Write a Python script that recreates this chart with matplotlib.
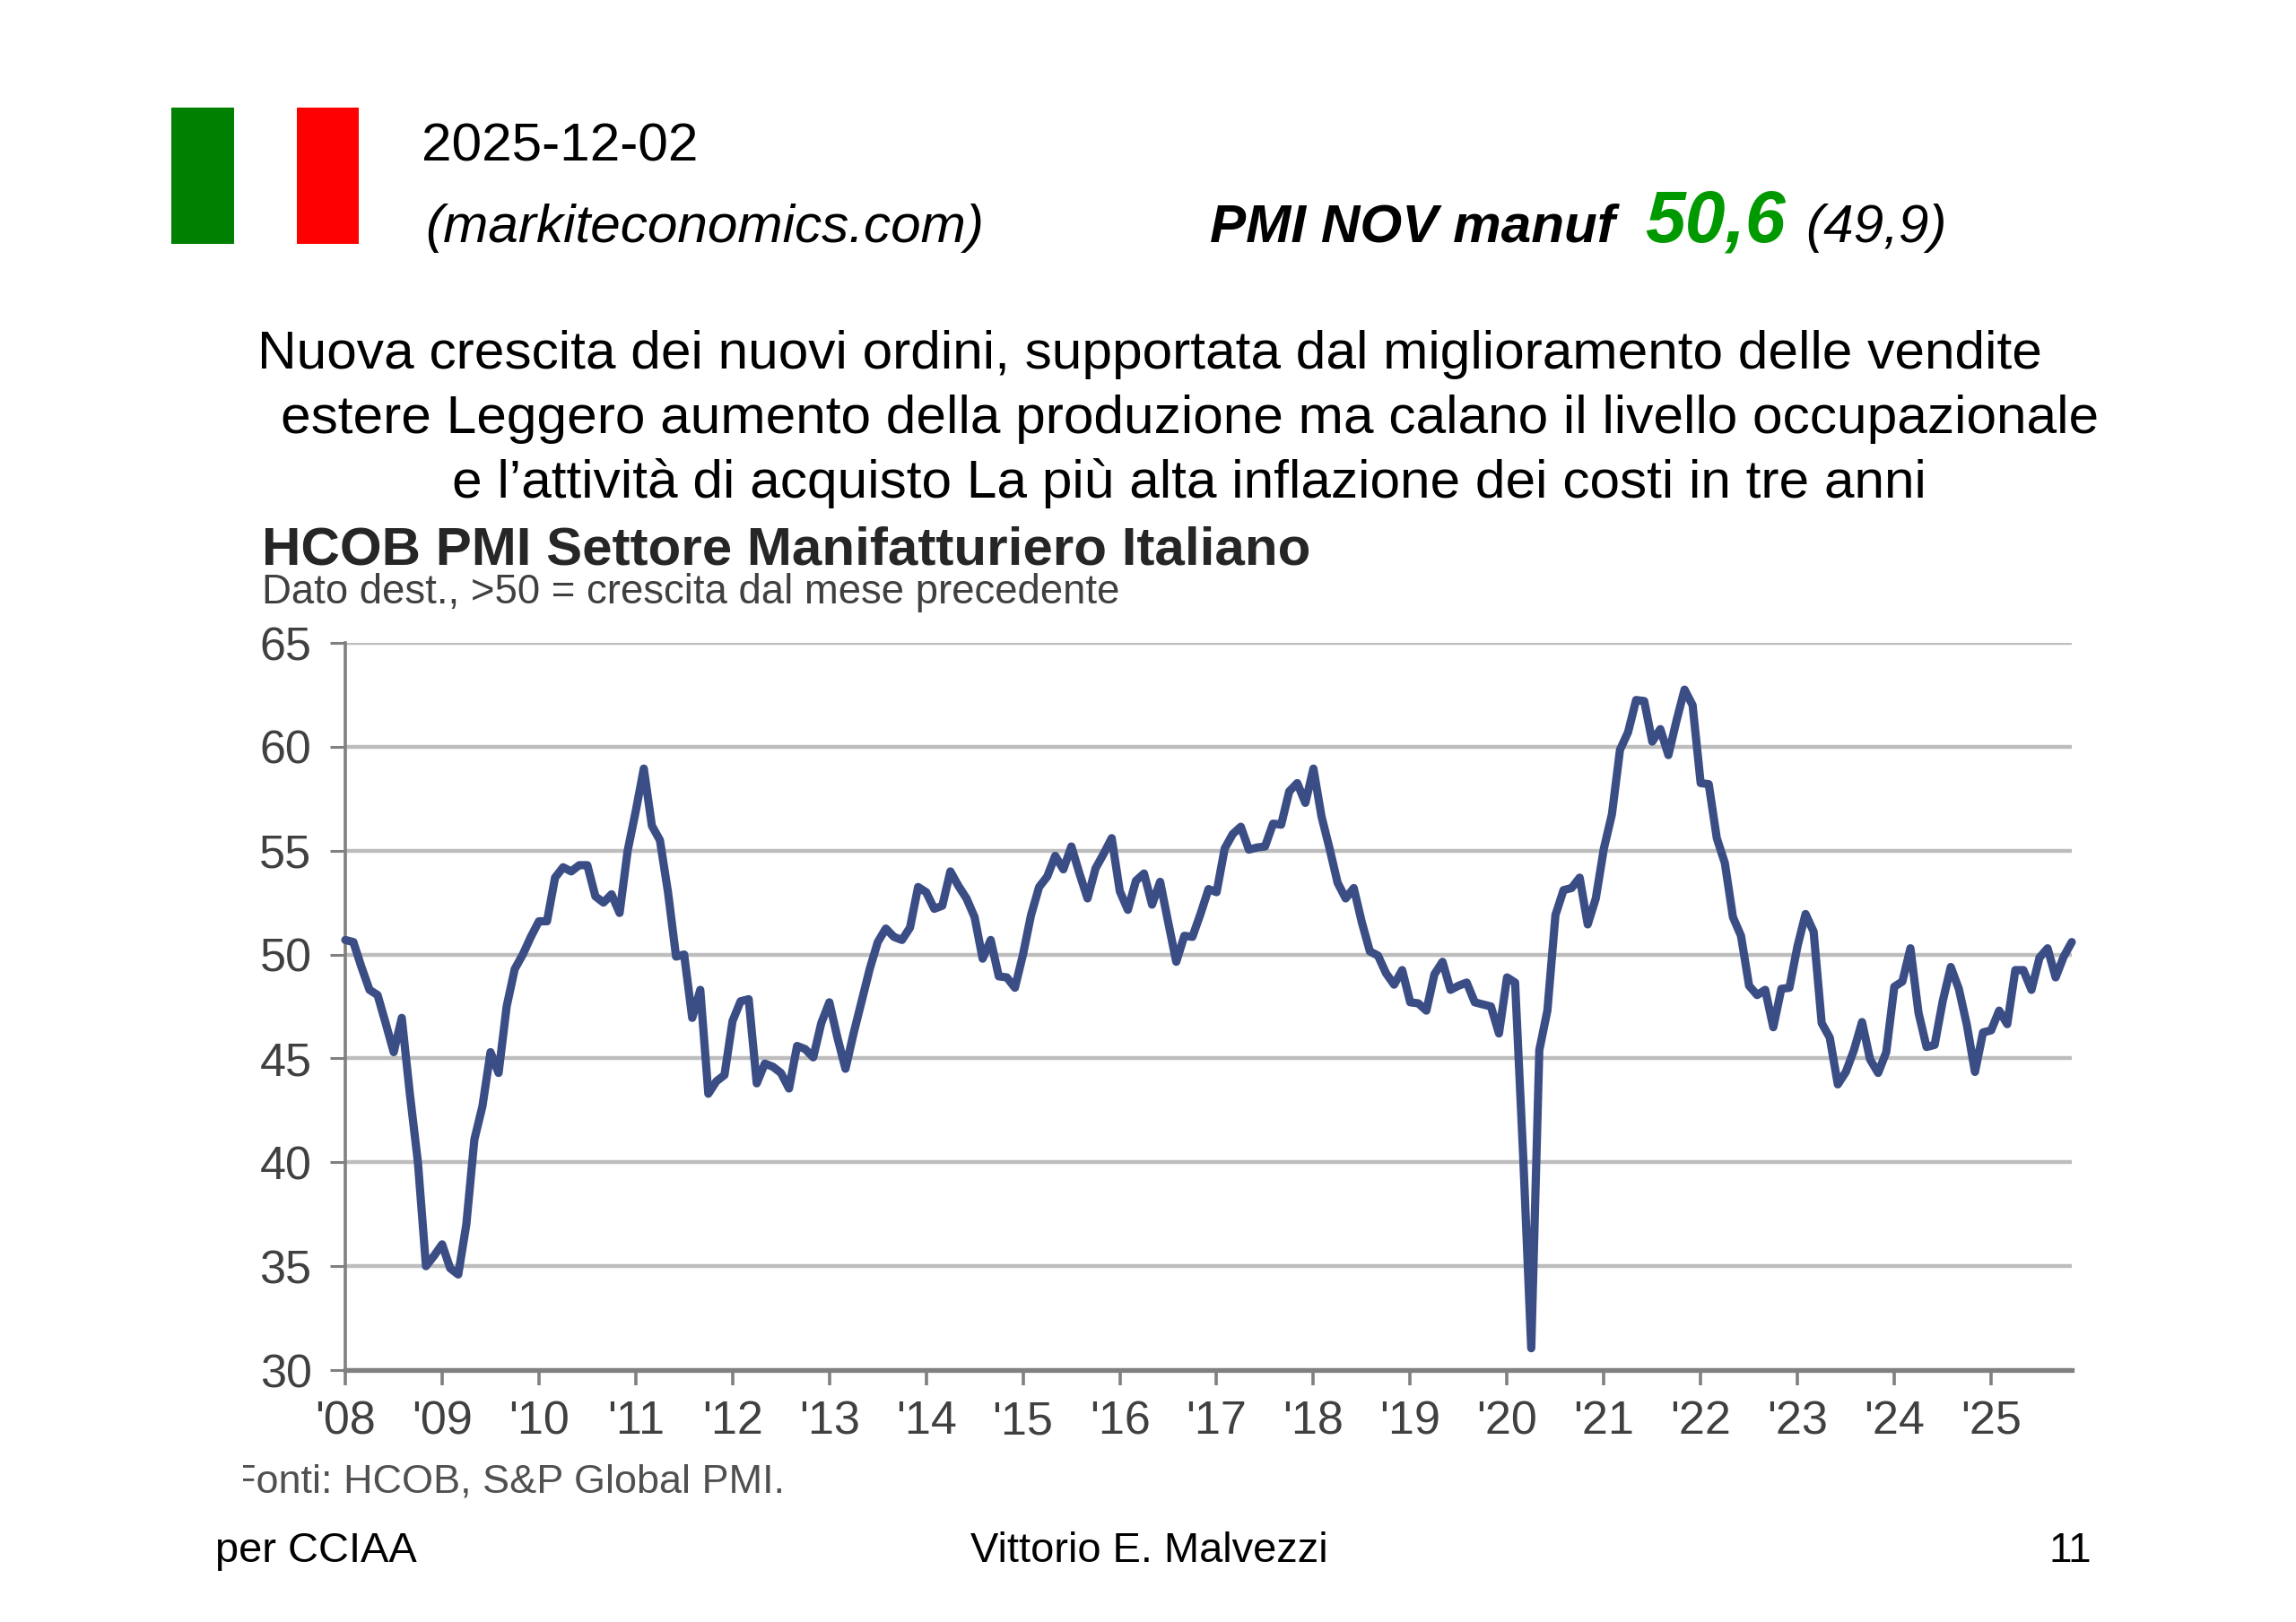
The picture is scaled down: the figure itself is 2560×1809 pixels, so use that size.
import matplotlib
matplotlib.use('Agg')
import matplotlib.pyplot as plt
from matplotlib.patches import Rectangle
from matplotlib.transforms import Bbox

WIDTH = 2560
HEIGHT = 1809

plt.rcParams['font.family'] = ['Liberation Sans', 'DejaVu Sans']

# monthly index, Jan 2008 to Nov 2025
pmi_2008_2013 = [
    50.7, 50.6, 49.4, 48.3, 48.05, 46.7, 45.3, 46.95, 43.3, 40.0, 35.0, 35.5,
    36.05, 34.9, 34.6, 37.0, 41.1, 42.7, 45.3, 44.3, 47.5, 49.3, 50.0, 50.85,
    51.6, 51.6, 53.7, 54.2, 54.0, 54.3, 54.3, 52.8, 52.5, 52.9, 52.0, 55.0,
    56.9, 58.95, 56.2, 55.5, 53.0, 49.9, 50.0, 46.95, 48.3, 43.3, 43.9, 44.2,
    46.8, 47.75, 47.85, 43.8, 44.75, 44.6, 44.3, 43.55, 45.6, 45.45, 45.05, 46.7,
    47.7, 46.0, 44.5, 46.2, 47.75, 49.3, 50.6, 51.25, 50.85, 50.7, 51.3, 53.25,
]
pmi_2014_2019 = [
    53.0, 52.2, 52.35, 54.0, 53.3, 52.7, 51.8, 49.8, 50.7, 48.95, 48.9, 48.4,
    50.0, 51.9, 53.25, 53.75, 54.75, 54.1, 55.2, 53.9, 52.7, 54.15, 54.85, 55.6,
    53.05, 52.15, 53.55, 53.9, 52.4, 53.5, 51.55, 49.65, 50.9, 50.85, 51.95, 53.15,
    53.0, 55.1, 55.8, 56.15, 55.05, 55.15, 55.2, 56.3, 56.25, 57.85, 58.25, 57.3,
    58.95, 56.65, 55.1, 53.45, 52.7, 53.2, 51.55, 50.15, 49.95, 49.1, 48.55, 49.25,
    47.7, 47.65, 47.3, 49.05, 49.65, 48.3, 48.5, 48.65, 47.7, 47.6, 47.5, 46.2,
]
pmi_2020_2025 = [
    48.9, 48.65, 40.3, 31.05, 45.4, 47.3, 51.9, 53.1, 53.2, 53.7, 51.45, 52.7,
    55.1, 56.75, 59.85, 60.7, 62.25, 62.2, 60.25, 60.85, 59.6, 61.25, 62.75, 62.0,
    58.25, 58.2, 55.6, 54.4, 51.8, 50.9, 48.5, 48.05, 48.3, 46.5, 48.35, 48.4,
    50.4, 51.95, 51.1, 46.7, 46.0, 43.75, 44.35, 45.4, 46.75, 44.95, 44.3, 45.3,
    48.45, 48.7, 50.3, 47.2, 45.55, 45.65, 47.75, 49.4, 48.35, 46.6, 44.35, 46.25,
    46.35, 47.3, 46.65, 49.25, 49.25, 48.3, 49.85, 50.3, 48.9, 49.9, 50.6,
]
pmi_values = pmi_2008_2013 + pmi_2014_2019 + pmi_2020_2025
months = list(range(len(pmi_values)))

year_labels = ["'08", "'09", "'10", "'11", "'12", "'13", "'14", "'15", "'16",
               "'17", "'18", "'19", "'20", "'21", "'22", "'23", "'24", "'25"]
y_levels = [30, 35, 40, 45, 50, 55, 60, 65]

headline_lines = [
    'Nuova crescita dei nuovi ordini, supportata dal miglioramento delle vendite',
    'estere Leggero aumento della produzione ma calano il livello occupazionale',
    'e l\u2019attivit\u00e0 di acquisto La pi\u00f9 alta inflazione dei costi in tre anni',
]


def put_text(fig, x, y, s, **kw):
    # x, y in pixels from the top left, y on the baseline
    return fig.text(x / WIDTH, 1 - y / HEIGHT, s, va='baseline', **kw)


fig = plt.figure(figsize=(WIDTH / 100, HEIGHT / 100), dpi=100, facecolor='white')

# flag, white stripe left to the page
for x0, x1, col in [(191, 261, '#008000'), (331, 400, '#ff0000')]:
    fig.add_artist(Rectangle((x0 / WIDTH, 1 - 272 / HEIGHT), (x1 - x0) / WIDTH, 152 / HEIGHT,
                             transform=fig.transFigure, facecolor=col, edgecolor='none'))

put_text(fig, 470, 179, '2025-12-02', fontsize=43.5)
put_text(fig, 474, 270, '(markiteconomics.com)', fontsize=43.4, style='italic')
put_text(fig, 1349, 270, 'PMI NOV manuf', fontsize=43.4, style='italic', weight='bold')
put_text(fig, 1834, 270, '50,6', fontsize=58, style='italic', weight='bold', color='#009900')
put_text(fig, 2013, 270, '(49,9)', fontsize=43.4, style='italic')

put_text(fig, 287, 411, headline_lines[0], fontsize=43.44)
put_text(fig, 313, 483, headline_lines[1], fontsize=43.44)
put_text(fig, 504, 555, headline_lines[2], fontsize=43.44)

# chart heading block
put_text(fig, 292, 630, 'HCOB PMI Settore Manifatturiero Italiano', fontsize=43.3, weight='bold', color='#262626')
put_text(fig, 292, 673, 'Dato dest., >50 = crescita dal mese precedente', fontsize=32.8, color='#404040')

ax = fig.add_axes([385 / WIDTH, 1 - 1528 / HEIGHT, (2310 - 385) / WIDTH, (1528 - 717) / HEIGHT])
ax.plot(months, pmi_values, color='#3b4d85', lw=6.6, solid_joinstyle='round', solid_capstyle='round',
        clip_on=False, zorder=3)

ax.set_xlim(0, 214)
ax.set_ylim(30, 65)
ax.set_yticks(y_levels)
ax.set_xticks(list(range(0, 214, 12)))
ax.set_xticklabels(year_labels)

ax.grid(axis='y', color='#bdbdbd', lw=3.2)
ax.set_axisbelow(True)
for side in ['top', 'right']:
    ax.spines[side].set_visible(False)
ax.spines['left'].set_color('#808080')
ax.spines['left'].set_linewidth(2.6)
ax.spines['bottom'].set_color('#808080')
ax.spines['bottom'].set_linewidth(3.8)
ax.tick_params(axis='y', length=12, width=2.2, color='#808080', labelsize=37.5, labelcolor='#404040', pad=15)
ax.tick_params(axis='x', length=12, width=2.6, color='#808080', labelsize=37.5, labelcolor='#404040', pad=12)

# source line is cut off on the left edge of the chart block
src = put_text(fig, 258, 1664, 'Fonti: HCOB, S&P Global PMI.', fontsize=32.4, color='#505050')
src.set_clip_box(Bbox([[271, 0], [WIDTH, HEIGHT]]))
src.set_clip_on(True)

put_text(fig, 240, 1742, 'per CCIAA', fontsize=33.8)
put_text(fig, 1082, 1742, 'Vittorio E. Malvezzi', fontsize=33.8)
put_text(fig, 2284, 1742, '11', fontsize=33)

fig.savefig('out.png', dpi=100)
